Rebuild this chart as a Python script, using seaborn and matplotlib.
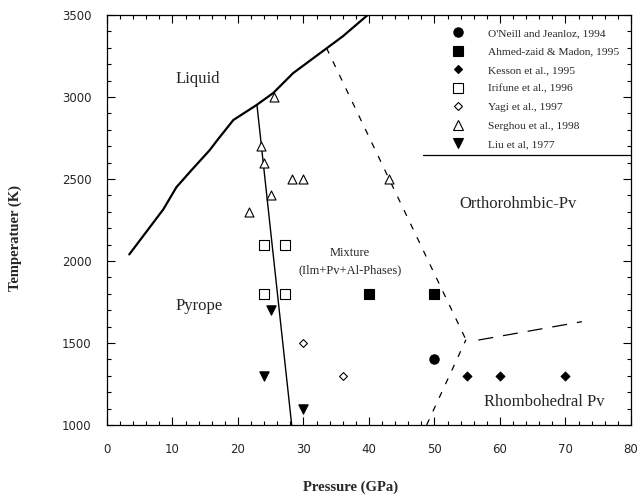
import matplotlib
matplotlib.use("Agg")
import matplotlib.pyplot as plt
from matplotlib.lines import Line2D
from matplotlib.ticker import MultipleLocator
import pandas as pd
import seaborn as sns

# ── data ──
oneill_p, oneill_t = [50], [1400]
ahmed_p, ahmed_t = [40, 50], [1800, 1800]
kesson_p, kesson_t = [55, 60, 70], [1300, 1300, 1300]
irifune_p, irifune_t = [24, 27.2, 24, 27.2], [2100, 2100, 1800, 1800]
yagi_p, yagi_t = [30, 36], [1500, 1300]
serghou_p = [25.5, 23.5, 24, 25, 21.7, 28.2, 30, 43]
serghou_t = [3000, 2700, 2600, 2400, 2300, 2500, 2500, 2500]
liu_p, liu_t = [25, 24, 30], [1700, 1300, 1100]

# phase boundaries
liquidus_p = [3.4, 8.6, 10.6, 12.7, 15.7, 17, 19.3, 22.8, 25.4, 28.4, 33.3, 36, 39.8]
liquidus_t = [2040, 2315, 2450, 2545, 2677, 2745, 2860, 2950, 3025, 3145, 3290, 3370, 3500]
pyrope_p, pyrope_t = [22.9, 28.2], [2950, 1000]
ortho_p, ortho_t = [33.5, 54.8], [3300, 1520]
rhombo_p, rhombo_t = [48.8, 54.8], [1000, 1520]
high_p, high_t = [56.7, 72.5], [1518, 1630]
sep_p, sep_t = [48.2, 80], [2646, 2646]

sources = ["O'Neill and Jeanloz, 1994", "Ahmed-zaid & Madon, 1995",
           "Kesson et al., 1995", "Irifune et al., 1996", "Yagi et al., 1997",
           "Serghou et al., 1998", "Liu et al, 1977"]
series = [(oneill_p, oneill_t), (ahmed_p, ahmed_t), (kesson_p, kesson_t),
          (irifune_p, irifune_t), (yagi_p, yagi_t), (serghou_p, serghou_t),
          (liu_p, liu_t)]
markers = ["o", "s", "D", "s", "D", "^", "v"]
faces = ["black", "black", "black", "white", "white", "white", "black"]
sizes = [45, 45, 20, 42, 16, 42, 45]

df = pd.concat([pd.DataFrame({"P": p, "T": t, "src": s})
                for s, (p, t) in zip(sources, series)], ignore_index=True)

sns.set_style("ticks")
plt.rcParams["font.family"] = ["Liberation Serif", "DejaVu Serif"]

fig = plt.figure(figsize=(6.41, 4.95), dpi=100)
ax = fig.add_axes([0.1669, 0.1414, 0.8175, 0.8283])

# boundaries
line_kw = dict(sort=False, estimator=None, color="black", ax=ax)
sns.lineplot(x=liquidus_p, y=liquidus_t, linewidth=1.6, **line_kw)
sns.lineplot(x=pyrope_p, y=pyrope_t, linewidth=1.0, **line_kw)
sns.lineplot(x=ortho_p, y=ortho_t, linewidth=0.9, linestyle=(0, (5, 7)), **line_kw)
sns.lineplot(x=rhombo_p, y=rhombo_t, linewidth=0.9, linestyle=(0, (5, 7)), **line_kw)
sns.lineplot(x=high_p, y=high_t, linewidth=0.9, linestyle=(0, (12, 8)), **line_kw)
sns.lineplot(x=sep_p, y=sep_t, linewidth=0.9, **line_kw)

# data points
handles = []
for s, m, fc, sz in zip(sources, markers, faces, sizes):
    d = df[df["src"] == s]
    sns.scatterplot(data=d, x="P", y="T", marker=m, s=sz, facecolor=fc,
                    edgecolor="black", linewidth=0.8, ax=ax, zorder=3)
    handles.append(Line2D([], [], linestyle="none", marker=m,
                          markersize=(sz ** 0.5), markerfacecolor=fc,
                          markeredgecolor="black", markeredgewidth=0.8, label=s))

ax.legend(handles=handles, loc="upper left", bbox_to_anchor=(0.659, 0.968),
          frameon=False, fontsize=8.2, handlelength=1.0, handletextpad=2.1,
          labelspacing=0.75, borderpad=0, borderaxespad=0)

# region labels
ax.text(13.9, 3108, "Liquid", fontsize=12, ha="center", va="center")
ax.text(14.0, 1726, "Pyrope", fontsize=12, ha="center", va="center")
ax.text(37.1, 2050, "Mixture", fontsize=9, ha="center", va="center")
ax.text(37.1, 1945, "(Ilm+Pv+Al-Phases)", fontsize=9, ha="center", va="center")
ax.text(62.7, 2347, "Orthorohmbic-Pv", fontsize=12, ha="center", va="center")
ax.text(66.7, 1142, "Rhombohedral Pv", fontsize=12, ha="center", va="center")

ax.set_xlim(0, 80)
ax.set_ylim(1000, 3500)
ax.xaxis.set_major_locator(MultipleLocator(10))
ax.xaxis.set_minor_locator(MultipleLocator(2))
ax.yaxis.set_major_locator(MultipleLocator(500))
ax.yaxis.set_minor_locator(MultipleLocator(100))
ax.tick_params(which="both", direction="in", top=True, right=True,
               width=0.8, color="black")
ax.tick_params(which="major", length=6)
ax.tick_params(which="minor", length=3)
ax.tick_params(axis="x", which="major", pad=13)
ax.tick_params(axis="y", which="major", pad=11)
for lab in ax.get_xticklabels() + ax.get_yticklabels():
    lab.set_family("DejaVu Sans")
    lab.set_fontsize(8.5)
for sp in ax.spines.values():
    sp.set_linewidth(0.9)
    sp.set_color("black")

ax.set_xlabel("Pressure (GPa)", fontsize=10.5, fontweight="bold")
ax.set_ylabel("Temperatuer (K)", fontsize=10.5, fontweight="bold")
ax.xaxis.set_label_coords(0.464, -0.135)
ax.yaxis.set_label_coords(-0.162, 0.456)

fig.savefig("out.png", dpi=100)
